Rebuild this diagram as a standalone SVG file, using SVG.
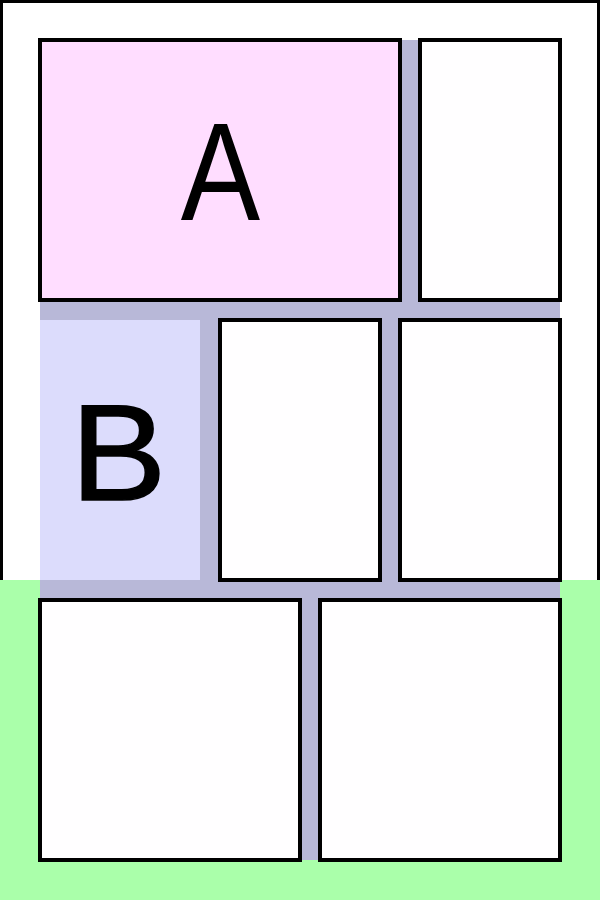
<svg xmlns="http://www.w3.org/2000/svg" width="600" height="900" viewBox="0 0 600 900">
<style>
.box{fill:#fffeff;stroke:#000;stroke-width:4}
.lbl{font-family:"Liberation Sans",Arial,sans-serif;text-anchor:middle;fill:#000}
</style>
<rect id="page" x="1.5" y="1.5" width="597" height="897" fill="#fff" stroke="#000" stroke-width="3"/>
<rect id="footer" x="0" y="580" width="600" height="320" fill="#aaffaa"/>
<rect id="grid" x="40" y="40" width="520" height="820" fill="#b8b8d8"/>
<g id="nodeA"><rect x="40" y="40" width="360" height="260" fill="#ffddff" stroke="#000" stroke-width="4"/><text class="lbl" x="0" y="220" font-size="140" transform="translate(220.5 0) scale(0.85 1)">A</text></g>
<g id="cell12"><rect class="box" x="420" y="40" width="140" height="260"/></g>
<g id="nodeB"><rect x="40" y="320" width="160" height="260" fill="#dcdcfc"/><text class="lbl" x="0" y="500" font-size="137" stroke="#000" stroke-width="1.5" transform="translate(118.5 0) scale(1.05 1)">B</text></g>
<g id="cell22"><rect class="box" x="220" y="320" width="160" height="260"/></g>
<g id="cell23"><rect class="box" x="400" y="320" width="160" height="260"/></g>
<g id="cell31"><rect class="box" x="40" y="600" width="260" height="260"/></g>
<g id="cell32"><rect class="box" x="320" y="600" width="240" height="260"/></g>
</svg>
